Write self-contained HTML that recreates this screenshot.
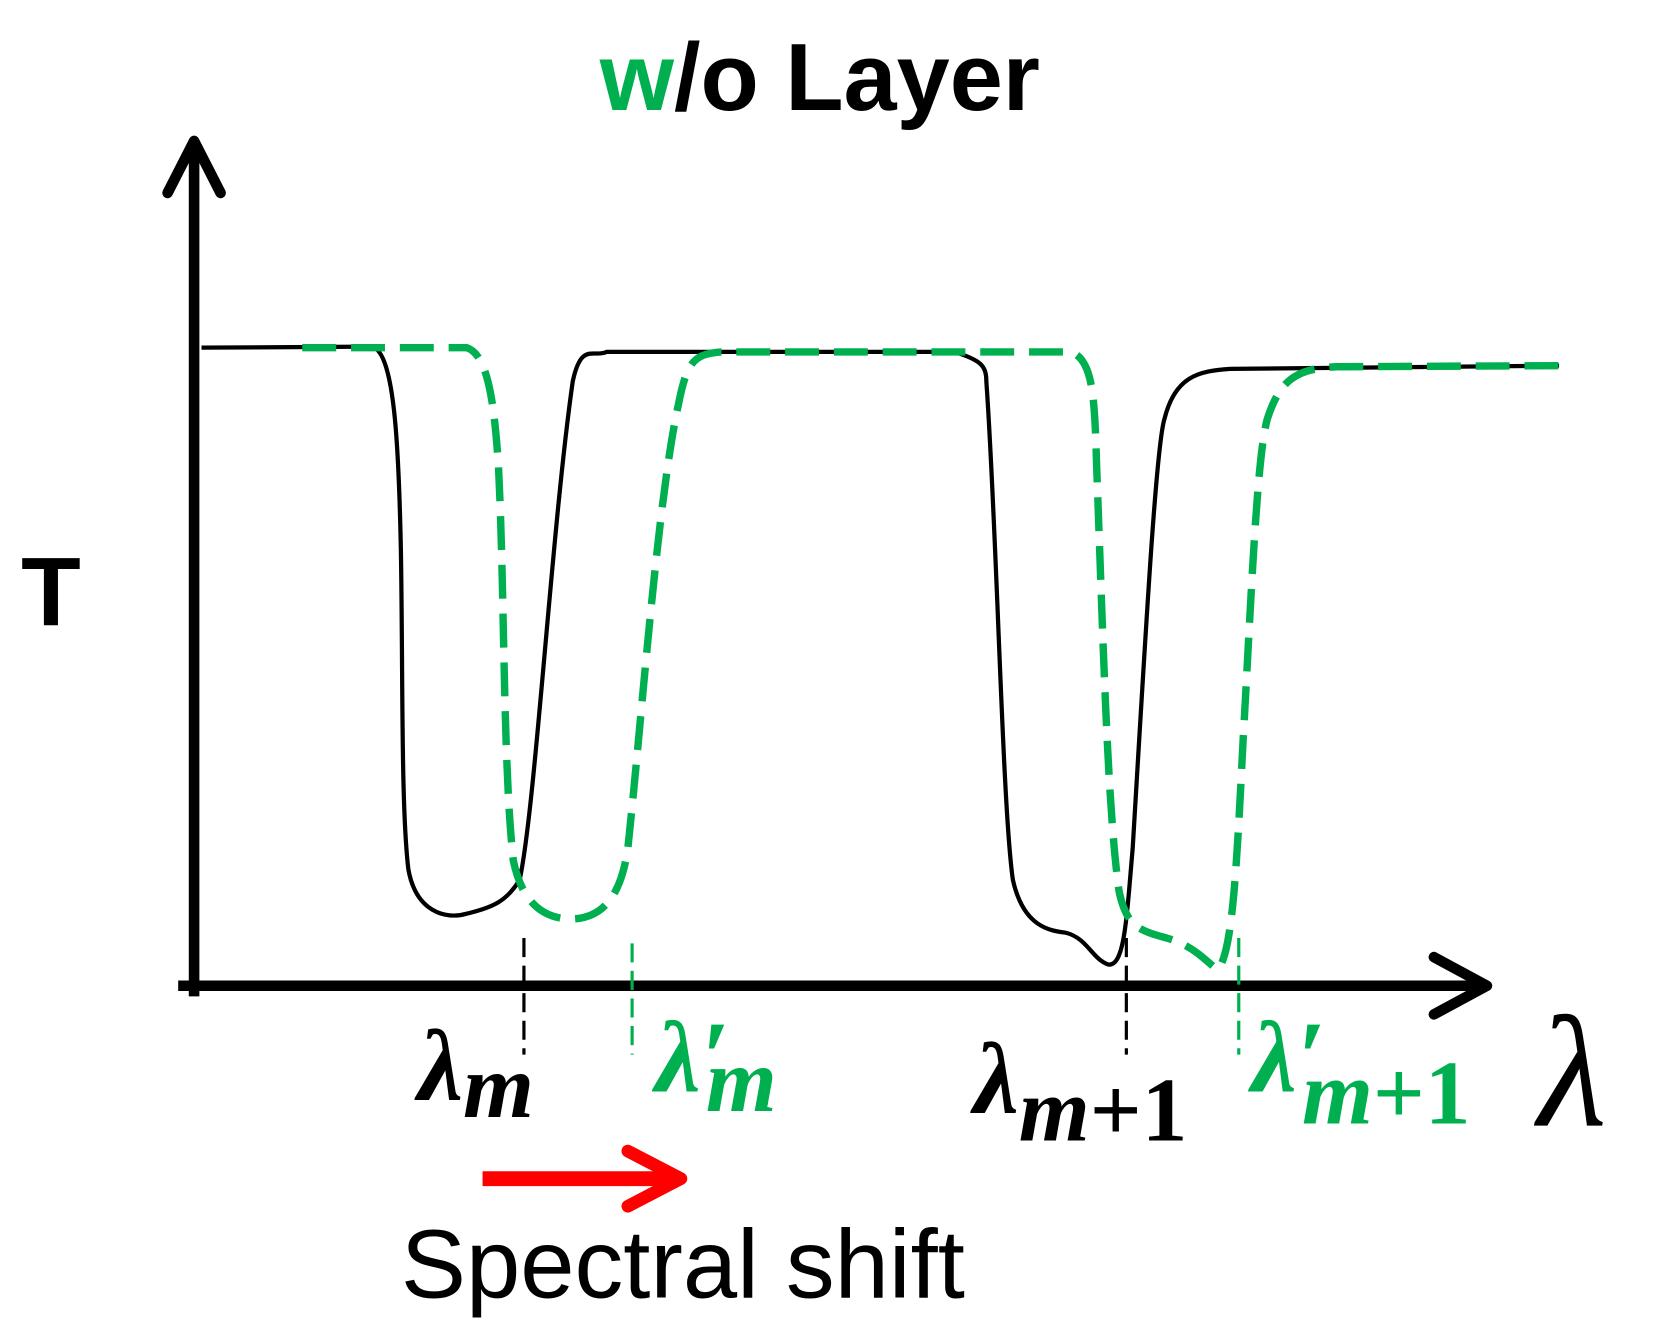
<!DOCTYPE html>
<html><head><meta charset="utf-8"><style>
html,body{margin:0;padding:0;background:#fff;}
svg{display:block;}
</style></head><body>
<svg width="1663" height="1344" viewBox="0 0 1568 1268" preserveAspectRatio="none" xmlns="http://www.w3.org/2000/svg">
<text x="773" y="104" text-anchor="middle" font-family="Liberation Sans, sans-serif" font-weight="bold" font-size="90"><tspan fill="#00b050">w</tspan><tspan fill="#000">/o Layer</tspan></text>
<text x="48" y="590" text-anchor="middle" font-family="Liberation Sans, sans-serif" font-weight="bold" font-size="92" fill="#000">T</text>
<line x1="183" y1="138" x2="183" y2="940" stroke="#000" stroke-width="10"/>
<polyline points="158,182 183,133 208,182" fill="none" stroke="#000" stroke-width="10" stroke-linecap="round" stroke-linejoin="round"/>
<line x1="168" y1="930" x2="1400" y2="930" stroke="#000" stroke-width="10"/>
<polyline points="1352,903 1402,930 1352,957" fill="none" stroke="#000" stroke-width="10" stroke-linecap="round" stroke-linejoin="round"/>
<path d="M190,328 L350,327 C372,330 376,420 378,520 C380,640 378,760 385,820 C392,860 420,868 440,862 C465,856 478,850 490,830 C505,760 520,500 540,360 C548,322 560,338 572,332 L900,332 C925,340 930,345 930,360 C940,500 945,760 955,830 C965,875 990,878 1005,880 C1025,885 1030,905 1045,910 C1060,912 1062,870 1068,800 C1080,600 1090,420 1098,395 C1108,355 1130,350 1160,348 L1470,345" fill="none" stroke="#000" stroke-width="4"/>
<path d="M285,328 L440,328 C460,334 466,380 470,440 C476,560 474,720 484,812 C492,850 510,865 535,867 C565,868 585,850 592,800 C605,680 620,470 640,380 C648,340 655,334 680,332 L1010,332 C1030,340 1032,370 1034,440 C1040,600 1044,760 1055,840 C1062,875 1075,878 1100,885 C1125,892 1135,905 1148,915 C1162,900 1166,820 1172,700 C1180,560 1185,430 1195,395 C1208,355 1225,348 1260,346 L1470,345" fill="none" stroke="#00b050" stroke-width="7" stroke-dasharray="32,14"/>
<line x1="494" y1="885" x2="494" y2="995" stroke="#000" stroke-width="3" stroke-dasharray="18,8"/>
<line x1="596" y1="890" x2="596" y2="995" stroke="#00b050" stroke-width="3" stroke-dasharray="18,8"/>
<line x1="1062" y1="885" x2="1062" y2="995" stroke="#000" stroke-width="3" stroke-dasharray="18,8"/>
<line x1="1168" y1="885" x2="1168" y2="995" stroke="#00b050" stroke-width="3" stroke-dasharray="18,8"/>
<g font-family="Liberation Serif, serif" font-style="italic" font-weight="bold">
<text x="394" y="1038" font-size="96" fill="#000">λ<tspan font-size="86" dy="16">m</tspan></text>
<text x="618" y="1030" font-size="96" fill="#00b050">λ′<tspan font-size="86" dx="-22" dy="18">m</tspan></text>
<text x="918" y="1050" font-size="96" fill="#000">λ<tspan font-size="86" dy="26">m</tspan><tspan font-style="normal" font-size="86">+1</tspan></text>
<text x="1180" y="1030" font-size="96" fill="#00b050">λ′<tspan font-size="86" dx="-22" dy="30">m</tspan><tspan font-style="normal" font-size="86">+1</tspan></text>
</g>
<text x="1450" y="1062" font-family="Liberation Serif, serif" font-style="italic" font-size="150" fill="#000">λ</text>
<line x1="455" y1="1112" x2="638" y2="1112" stroke="#ff0000" stroke-width="14"/>
<polyline points="592,1086 642,1112 592,1138" fill="none" stroke="#ff0000" stroke-width="12" stroke-linecap="round" stroke-linejoin="round"/>
<text x="378" y="1224" font-family="Liberation Sans, sans-serif" font-size="92" fill="#000">Spectral shift</text>
</svg>
</body></html>
